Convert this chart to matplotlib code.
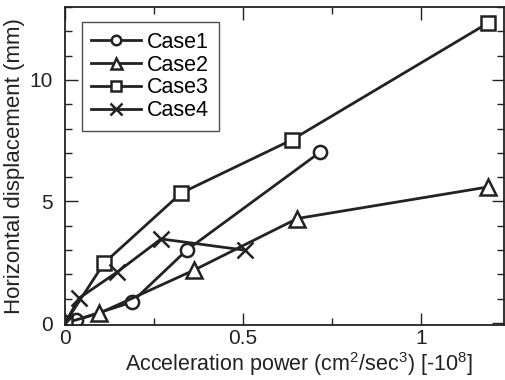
import numpy as np
import matplotlib
matplotlib.use('Agg')
import matplotlib.pyplot as plt
from matplotlib.ticker import MultipleLocator

plt.rcParams['font.family'] = ['Liberation Sans', 'DejaVu Sans']
plt.rcParams['mathtext.fontset'] = 'custom'
plt.rcParams['mathtext.rm'] = 'Liberation Sans'

#data
case1_x = [0, 0.03, 0.188, 0.342, 0.718]
case1_y = [0, 0.12, 0.86, 3.0, 7.04]
case2_x = [0, 0.096, 0.363, 0.653, 1.19]
case2_y = [0, 0.4, 2.18, 4.3, 5.6]
case3_x = [0, 0.11, 0.327, 0.637, 1.19]
case3_y = [0, 2.47, 5.35, 7.53, 12.35]
case4_x = [0, 0.04, 0.147, 0.27, 0.505]
case4_y = [0, 1.03, 2.1, 3.46, 3.0]
labels = ['Case1', 'Case2', 'Case3', 'Case4']

fig = plt.figure(figsize=(5.05, 3.8), dpi=100)
ax = fig.add_axes([65/505, 1-325/380, (504-65)/505, (325-7)/380])

kw = dict(color='#222222', lw=2.0, mfc='white', mec='#222222', mew=1.8)
ax.plot(case1_x, case1_y, marker='o', ms=9.5, label=labels[0], **kw)
ax.plot(case2_x, case2_y, marker='^', ms=11, label=labels[1], **kw)
ax.plot(case3_x, case3_y, marker='s', ms=10.5, label=labels[2], **kw)
ax.plot(case4_x, case4_y, marker='x', ms=12, label=labels[3], **kw)

ax.set_xlim(0, 1.234)
ax.set_ylim(-0.08, 13.0)
ax.set_xticks([0, 0.5, 1])
ax.set_xticklabels(['0', '0.5', '1'])
ax.xaxis.set_minor_locator(MultipleLocator(0.25))
ax.yaxis.set_major_locator(MultipleLocator(5))
ax.yaxis.set_minor_locator(MultipleLocator(1))
ax.tick_params(which='both', direction='in', top=True, right=True, labelsize=15, width=1, colors='#222222')
ax.tick_params(axis='y', which='major', length=9, pad=9)
ax.tick_params(axis='x', which='major', length=9, pad=3)
ax.tick_params(which='minor', length=5)
for s in ax.spines.values():
    s.set_linewidth(1.3)
    s.set_color('#222222')

ax.set_xlabel('Acceleration power (cm$^2$/sec$^3$) [-10$^8$]', fontsize=15.5, color='#222222')
ax.xaxis.set_label_coords(0.533, -0.08, transform=ax.transAxes)
ax.xaxis.label.set_va('top')
ax.set_ylabel('Horizontal displacement (mm)', fontsize=16, color='#222222', labelpad=3)

leg = ax.legend(loc='upper left', bbox_to_anchor=(0.038, 0.952), fontsize=15.5, frameon=True, fancybox=False,
                handlelength=2.3, handletextpad=0.3, labelspacing=0.08, borderpad=0.45, borderaxespad=0,
                markerscale=0.72)
leg.get_frame().set_edgecolor('#222222')
leg.get_frame().set_linewidth(1.0)

fig.savefig('out.png', dpi=100)
